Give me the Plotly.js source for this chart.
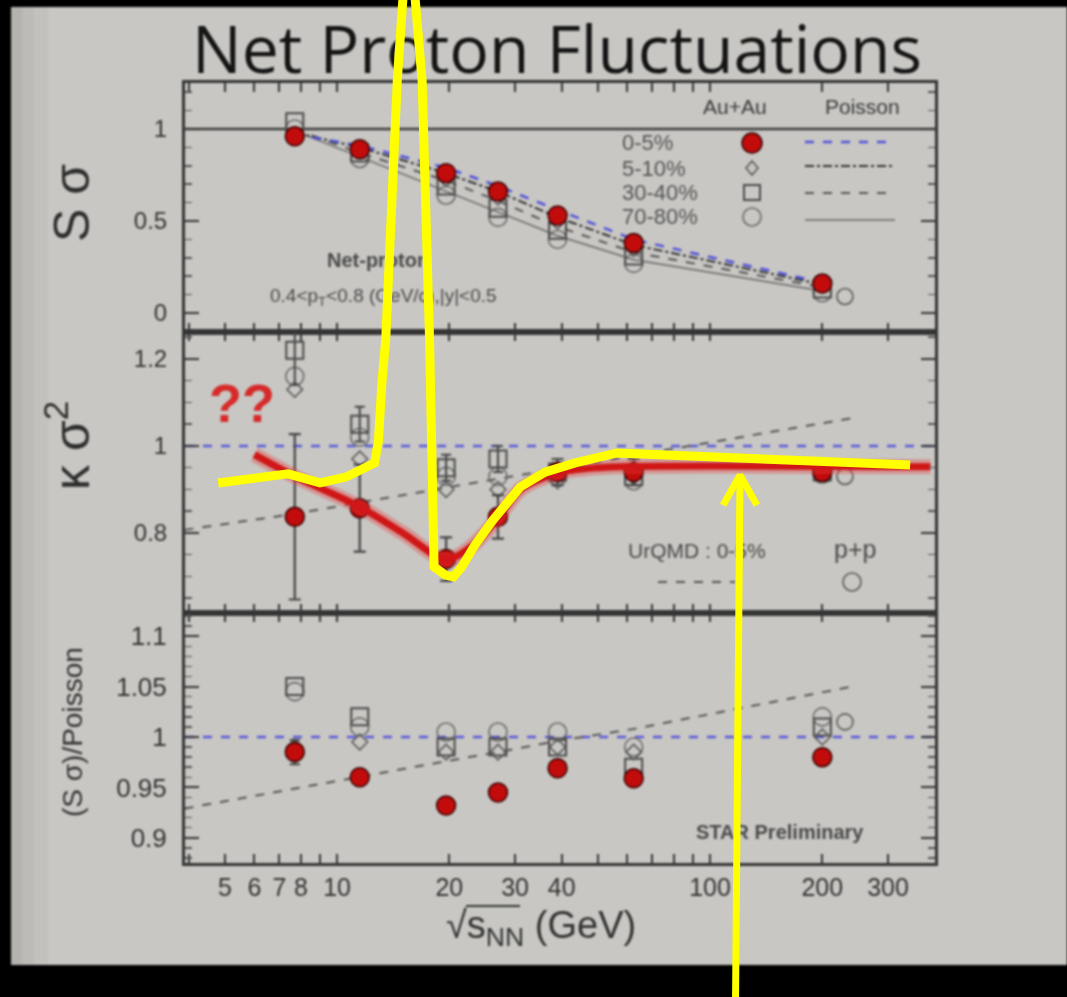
<!DOCTYPE html>
<html>
<head>
<meta charset="utf-8">
<script src="https://cdn.plot.ly/plotly-3.0.1.min.js"></script>
<style>
  html, body { margin: 0; padding: 0; background: #000; }
  #wrap { position: relative; width: 1067px; height: 997px; overflow: hidden; }
  #chart { position: absolute; left: 0; top: 0; width: 1067px; height: 997px; filter: blur(0.9px); }
  #sketch { position: absolute; left: 0; top: 0; width: 1067px; height: 997px; }
</style>
</head>
<body>
<div id="wrap"><div id="chart"></div><div id="sketch"></div></div>
<script>
// ---- data ---------------------------------------------------------------
// collision energies sqrt(s_NN) in GeV
const energies = [7.7, 11.5, 19.6, 27, 39, 62.4, 200];
const ppEnergy = [230];

// x-axis tick labels
const xTickLabelVals = [5, 6, 7, 8, 10, 20, 30, 40, 100, 200, 300];
const xTickLabels = ['5', '6', '7', '8', '10', '20', '30', '40', '100', '200', '300'];
const xTickPositions = [4, 5, 6, 7, 8, 9, 10, 20, 30, 40, 50, 60, 70, 80, 90, 100, 200, 300, 400];

// S*sigma by centrality
const ss_0_5   = [0.96, 0.89, 0.76, 0.66, 0.53, 0.38, 0.16];
const ss_5_10  = [0.97, 0.88, 0.73, 0.63, 0.50, 0.35, 0.15];
const ss_30_40 = [1.04, 0.87, 0.69, 0.57, 0.45, 0.31, 0.13];
const ss_70_80 = [1.00, 0.84, 0.64, 0.52, 0.40, 0.27, 0.11];
const ss_pp    = [0.09];
// Poisson expectations for S*sigma
const ssPois_0_5   = [0.97, 0.91, 0.79, 0.69, 0.56, 0.40, 0.165];
const ssPois_5_10  = [0.98, 0.90, 0.76, 0.66, 0.52, 0.37, 0.155];
const ssPois_30_40 = [1.00, 0.87, 0.72, 0.61, 0.47, 0.33, 0.14];
const ssPois_70_80 = [0.99, 0.85, 0.66, 0.55, 0.42, 0.29, 0.12];

// kappa*sigma^2 by centrality
const ks_0_5       = [0.837, 0.857, 0.74, 0.837, 0.94, 0.94, 0.94];
const ks_0_5_err   = [0.19, 0.10, 0.05, 0.05, 0.03, 0.03, 0.02];
const ks_5_10      = [1.13, 0.97, 0.90, 0.90, 0.92, 0.93, 0.95];
const ks_30_40     = [1.22, 1.05, 0.95, 0.97, 0.94, 0.93, 0.94];
const ks_30_40_err = [0.08, 0.04, 0.03, 0.03, 0.02, 0.02, 0.02];
const ks_70_80     = [1.16, 1.02, 0.93, 0.93, 0.93, 0.92, 0.935];
const ks_pp        = [0.93];

// UrQMD 0-5% curves
const urqmdE  = [3.9, 7.7, 11.5, 19.6, 27, 39, 62.4, 200, 240];
const urqmdKS = [0.807, 0.844, 0.870, 0.904, 0.924, 0.948, 0.978, 1.053, 1.064];
const urqmdSP = [0.929, 0.949, 0.961, 0.976, 0.985, 0.996, 1.008, 1.044, 1.050];

// (S*sigma)/Poisson by centrality
const sp_0_5     = [0.985, 0.960, 0.932, 0.945, 0.969, 0.959, 0.980];
const sp_0_5_err = [0.012, 0.006, 0.006, 0.005, 0.004, 0.004, 0.006];
const sp_5_10    = [0.990, 0.995, 0.985, 0.985, 0.990, 0.985, 1.000];
const sp_30_40   = [1.050, 1.020, 0.990, 0.990, 0.990, 0.970, 1.010];
const sp_70_80   = [1.045, 1.010, 1.005, 1.005, 1.005, 0.990, 1.020];
const sp_pp      = [1.015];

// hand-drawn red trend through the kappa*sigma^2 points
const redCurveE = [6.0, 7.7, 11.5, 15.0, 19.6, 23.0, 27, 31, 39, 50, 62.4, 100, 200, 390];
const redCurveK = [0.98, 0.93, 0.86, 0.80, 0.738, 0.77, 0.835, 0.90, 0.938, 0.95, 0.953, 0.954, 0.953, 0.952];

// hand-drawn yellow sketch (kappa*sigma^2 scale, runs off the panel)
const yellowE = [4.8, 7.39, 9.0, 10.6, 12.6, 12.9, 13.2, 13.5, 14.5, 14.9, 15.5, 16.2, 16.9, 17.7, 18.0, 18.2,
                 19.5, 20.5, 21.6, 23.4, 26.2, 31.0, 36.1, 43.5, 56.3, 344];
const yellowK = [0.915, 0.936, 0.915, 0.929, 0.961, 1.01, 1.15, 1.244, 1.841, 2.025, 2.2, 2.025, 1.841, 1.244, 0.991, 0.722,
                 0.703, 0.699, 0.722, 0.772, 0.83, 0.906, 0.94, 0.961, 0.984, 0.956];
const arrowShaftE = [116.7, 120.3];
const arrowShaftK = [-0.40, 0.933];
const arrowHeadE = [108.4, 120.3, 133.6];
const arrowHeadK = [0.864, 0.933, 0.864];

// ---- geometry -------------------------------------------------------------
const W = 1067, H = 997;
const px = v => v / W;
const py = v => 1 - v / H;

const xDom = [px(185), px(935)];
const topDom = [py(332), py(83)];
const midDom = [py(613), py(332)];
const botDom = [py(863), py(613)];
const xRange = [Math.log10(3.91), Math.log10(401)];
const topRange = [-0.103, 1.25];
const midRange = [0.616, 1.262];
const botRange = [0.875, 1.123];

// full-page axis sharing the middle panel's scales
function extend(r, d) {
  const s = (r[1] - r[0]) / (d[1] - d[0]);
  return [r[0] - d[0] * s, r[1] + (1 - d[1]) * s];
}
const fullX = extend(xRange, xDom);
const fullY = extend(midRange, midDom);

// ---- styles ---------------------------------------------------------------
const FONT = 'Liberation Sans, Arial, sans-serif';
const AX = '#353535';
const redMarker = { symbol: 'circle', size: 19, color: '#c20c0c', line: { color: '#3a0000', width: 1.5 } };
const m510 = { symbol: 'diamond-open', size: 12, color: '#5a5a5a', line: { width: 1.6 } };
const m3040 = { symbol: 'square-open', size: 17, color: '#4a4a4a', line: { width: 2 } };
const m7080 = { symbol: 'circle-open', size: 18, color: '#6a6a6a', line: { width: 1.6 } };
const mpp = { symbol: 'circle-open', size: 16, color: '#5a5a5a', line: { width: 1.6 } };

const traces = [];
function add(xa, ya, x, y, extra) {
  traces.push(Object.assign({ type: 'scatter', xaxis: xa, yaxis: ya, x: x, y: y, showlegend: false, hoverinfo: 'skip' }, extra));
}

// top panel: Poisson lines
add('x', 'y', energies, ssPois_70_80, { mode: 'lines', line: { color: '#666', width: 1.5 } });
add('x', 'y', energies, ssPois_30_40, { mode: 'lines', line: { color: '#555', width: 2, dash: 'dash' } });
add('x', 'y', energies, ssPois_5_10, { mode: 'lines', line: { color: '#333', width: 2, dash: 'dashdot' } });
add('x', 'y', energies, ssPois_0_5, { mode: 'lines', line: { color: '#5050d8', width: 2.5, dash: 'dash' } });
// top panel: data
add('x', 'y', energies, ss_70_80, { mode: 'markers', marker: m7080 });
add('x', 'y', energies, ss_30_40, { mode: 'markers', marker: m3040 });
add('x', 'y', energies, ss_5_10, { mode: 'markers', marker: m510 });
add('x', 'y', ppEnergy, ss_pp, { mode: 'markers', marker: mpp });
add('x', 'y', energies, ss_0_5, { mode: 'markers', marker: redMarker });

// middle panel
add('x2', 'y2', urqmdE, urqmdKS, { mode: 'lines', line: { color: '#555', width: 2, dash: 'dash' } });
add('x2', 'y2', energies, ks_70_80, { mode: 'markers', marker: m7080 });
add('x2', 'y2', energies, ks_30_40, { mode: 'markers', marker: m3040,
  error_y: { type: 'data', array: ks_30_40_err, color: '#444', thickness: 2, width: 5 } });
add('x2', 'y2', energies, ks_5_10, { mode: 'markers', marker: m510 });
add('x2', 'y2', ppEnergy, ks_pp, { mode: 'markers', marker: mpp });
add('x2', 'y2', energies, ks_0_5, { mode: 'markers', marker: redMarker,
  error_y: { type: 'data', array: ks_0_5_err, color: '#444', thickness: 2.2, width: 6 } });
add('x2', 'y2', redCurveE, redCurveK, { mode: 'lines', line: { color: 'rgba(235,60,60,0.35)', width: 15, shape: 'spline', smoothing: 0.8 } });
add('x2', 'y2', redCurveE, redCurveK, { mode: 'lines', line: { color: '#d01616', width: 7, shape: 'spline', smoothing: 0.8 } });

// bottom panel
add('x3', 'y3', urqmdE, urqmdSP, { mode: 'lines', line: { color: '#555', width: 2, dash: 'dash' } });
add('x3', 'y3', energies, sp_70_80, { mode: 'markers', marker: m7080 });
add('x3', 'y3', energies, sp_30_40, { mode: 'markers', marker: m3040 });
add('x3', 'y3', energies, sp_5_10, { mode: 'markers', marker: m510 });
add('x3', 'y3', ppEnergy, sp_pp, { mode: 'markers', marker: mpp });
add('x3', 'y3', energies, sp_0_5, { mode: 'markers', marker: redMarker,
  error_y: { type: 'data', array: sp_0_5_err, color: '#444', thickness: 2, width: 5 } });

// ---- axes -----------------------------------------------------------------
const xTickText = xTickPositions.map(v => {
  const i = xTickLabelVals.indexOf(v);
  return i >= 0 ? xTickLabels[i] : '';
});
function xAxis(anchor, labels) {
  return {
    domain: xDom, anchor: anchor, type: 'log', range: xRange,
    tickmode: 'array', tickvals: xTickPositions, ticktext: xTickText,
    showticklabels: labels, ticks: 'inside', ticklen: 9, tickwidth: 2, tickcolor: AX,
    showline: true, linecolor: AX, linewidth: 3, mirror: 'allticks',
    showgrid: false, zeroline: false, fixedrange: true,
    tickfont: { family: FONT, size: 25, color: '#333' }, ticklabelstandoff: 0
  };
}
function yAxis(anchor, dom, range, dtick, minor, fsize) {
  return {
    domain: dom, anchor: anchor, range: range, tick0: 0, dtick: dtick,
    ticks: 'inside', ticklen: 14, tickwidth: 2, tickcolor: AX,
    minor: { ticks: 'inside', dtick: minor, ticklen: 7, tickwidth: 1.5, tickcolor: '#555' },
    showline: true, linecolor: AX, linewidth: 3, mirror: 'allticks',
    showgrid: false, zeroline: false, fixedrange: true,
    tickfont: { family: FONT, size: fsize, color: '#333' }, ticklabelstandoff: 10
  };
}

// ---- decorations ----------------------------------------------------------
const shapes = [
  // slide surface with a darker left rim
  { type: 'rect', xref: 'paper', yref: 'paper', x0: px(11), x1: 1.05, y0: py(965), y1: py(7),
    fillcolor: '#c8c7c3', line: { width: 0 }, layer: 'below' },
  { type: 'rect', xref: 'paper', yref: 'paper', x0: px(11), x1: px(22), y0: py(965), y1: py(7),
    fillcolor: 'rgba(110,108,105,0.22)', line: { width: 0 }, layer: 'below' },
  { type: 'rect', xref: 'paper', yref: 'paper', x0: px(22), x1: px(34), y0: py(965), y1: py(7),
    fillcolor: 'rgba(110,108,105,0.13)', line: { width: 0 }, layer: 'below' },
  { type: 'rect', xref: 'paper', yref: 'paper', x0: px(34), x1: px(48), y0: py(965), y1: py(7),
    fillcolor: 'rgba(110,108,105,0.06)', line: { width: 0 }, layer: 'below' },
  // reference lines
  { type: 'line', xref: 'x domain', yref: 'y', x0: 0, x1: 1, y0: 1, y1: 1, line: { color: '#3d3d3d', width: 2.5 }, layer: 'below' },
  { type: 'line', xref: 'x2 domain', yref: 'y2', x0: 0, x1: 1, y0: 1, y1: 1, line: { color: '#5a5ad8', width: 2.5, dash: 'dash' }, layer: 'below' },
  { type: 'line', xref: 'x3 domain', yref: 'y3', x0: 0, x1: 1, y0: 1, y1: 1, line: { color: '#5a5ad8', width: 2.5, dash: 'dash' }, layer: 'below' },
  // legend glyphs, top panel
  { type: 'circle', xref: 'paper', yref: 'paper', x0: px(742), x1: px(762), y0: py(153), y1: py(133),
    fillcolor: '#c20c0c', line: { color: '#3a0000', width: 1.5 } },
  { type: 'path', xref: 'paper', yref: 'paper',
    path: `M ${px(752)} ${py(161)} L ${px(758)} ${py(168)} L ${px(752)} ${py(175)} L ${px(746)} ${py(168)} Z`,
    line: { color: '#5a5a5a', width: 1.6 } },
  { type: 'rect', xref: 'paper', yref: 'paper', x0: px(744), x1: px(760), y0: py(200), y1: py(185),
    line: { color: '#4a4a4a', width: 2 } },
  { type: 'circle', xref: 'paper', yref: 'paper', x0: px(743), x1: px(761), y0: py(226), y1: py(208),
    line: { color: '#6a6a6a', width: 1.6 } },
  { type: 'line', xref: 'paper', yref: 'paper', x0: px(805), x1: px(895), y0: py(142), y1: py(142), line: { color: '#5050d8', width: 2.5, dash: 'dash' } },
  { type: 'line', xref: 'paper', yref: 'paper', x0: px(805), x1: px(895), y0: py(166), y1: py(166), line: { color: '#333', width: 2, dash: 'dashdot' } },
  { type: 'line', xref: 'paper', yref: 'paper', x0: px(805), x1: px(895), y0: py(193), y1: py(193), line: { color: '#555', width: 2, dash: 'dash' } },
  { type: 'line', xref: 'paper', yref: 'paper', x0: px(805), x1: px(895), y0: py(220), y1: py(220), line: { color: '#666', width: 1.5 } },
  // legend glyphs, middle panel
  { type: 'line', xref: 'paper', yref: 'paper', x0: px(658), x1: px(735), y0: py(582), y1: py(582), line: { color: '#555', width: 2, dash: 'dash' } },
  { type: 'circle', xref: 'paper', yref: 'paper', x0: px(843), x1: px(861), y0: py(591), y1: py(573), line: { color: '#5a5a5a', width: 1.6 } },
  // radical bar over s_NN in the axis title
  { type: 'line', xref: 'paper', yref: 'paper', x0: px(466), x1: px(520), y0: py(906), y1: py(906), line: { color: '#333', width: 2.2 } }
];

function note(text, x, y, size, opts) {
  return Object.assign({ text: text, xref: 'paper', yref: 'paper', x: px(x), y: py(y), showarrow: false,
    xanchor: 'center', yanchor: 'middle', font: { family: FONT, size: size, color: '#3a3a3a' } }, opts || {});
}
const annotations = [
  note('Net Proton Fluctuations', 557, 47, 66, { font: { family: 'Open Sans, sans-serif', size: 66, color: '#141414' } }),
  note('S σ', 72, 203, 50, { textangle: -90, font: { family: FONT, size: 50, color: '#2e2e2e' } }),
  note('κ σ<sup>2</sup>', 68, 446, 50, { textangle: -90, font: { family: FONT, size: 50, color: '#2e2e2e' } }),
  note('(S σ)/Poisson', 72, 732, 28, { textangle: -90, font: { family: FONT, size: 28, color: '#333' } }),
  note('√s<sub>NN</sub> (GeV)', 541, 928, 38, { font: { family: FONT, size: 38, color: '#333' } }),
  note('Au+Au', 735, 107, 21),
  note('Poisson', 862, 107, 21),
  note('0-5%', 620, 143, 22, { xanchor: 'left', font: { family: FONT, size: 22, color: '#555' } }),
  note('5-10%', 620, 168, 22, { xanchor: 'left', font: { family: FONT, size: 22, color: '#555' } }),
  note('30-40%', 620, 193, 22, { xanchor: 'left', font: { family: FONT, size: 22, color: '#555' } }),
  note('70-80%', 620, 217, 22, { xanchor: 'left', font: { family: FONT, size: 22, color: '#555' } }),
  note('<b>Net-proton</b>', 378, 260, 20, { font: { family: FONT, size: 20, color: '#4a4a4a' } }),
  note('0.4&lt;p<sub>T</sub>&lt;0.8 (GeV/c),|y|&lt;0.5', 383, 297, 19, { font: { family: FONT, size: 19, color: '#4a4a4a' } }),
  note('UrQMD : 0-5%', 697, 550, 21, { font: { family: FONT, size: 21, color: '#4a4a4a' } }),
  note('p+p', 855, 549, 25, { font: { family: FONT, size: 25, color: '#4a4a4a' } }),
  note('<b>STAR Preliminary</b>', 780, 832, 20, { font: { family: FONT, size: 20, color: '#4a4a4a' } }),
  note('<b>??</b>', 242, 403, 54, { font: { family: FONT, size: 54, color: '#d62a2a' } })
];

const layout = {
  width: W, height: H,
  margin: { l: 0, r: 0, t: 0, b: 0 },
  paper_bgcolor: '#000000', plot_bgcolor: 'rgba(0,0,0,0)',
  showlegend: false, dragmode: false, hovermode: false,
  xaxis: xAxis('y', false), yaxis: yAxis('x', topDom, topRange, 0.5, 0.1, 24),
  xaxis2: xAxis('y2', false), yaxis2: yAxis('x2', midDom, midRange, 0.2, 0.05, 24),
  xaxis3: xAxis('y3', true), yaxis3: yAxis('x3', botDom, botRange, 0.05, 0.01, 26),
  shapes: shapes, annotations: annotations
};

Plotly.newPlot('chart', traces, layout, { staticPlot: true, displayModeBar: false });

// ---- yellow sketch, drawn crisp on top with a full-page axis ----------------
const YEL = '#ffff00';
const sketch = [
  { type: 'scatter', mode: 'lines', x: yellowE, y: yellowK, line: { color: YEL, width: 9 }, hoverinfo: 'skip' },
  { type: 'scatter', mode: 'lines', x: arrowShaftE, y: arrowShaftK, line: { color: YEL, width: 7 }, hoverinfo: 'skip' },
  { type: 'scatter', mode: 'lines', x: arrowHeadE, y: arrowHeadK, line: { color: YEL, width: 7 }, hoverinfo: 'skip' }
];
const sketchLayout = {
  width: W, height: H, margin: { l: 0, r: 0, t: 0, b: 0 },
  paper_bgcolor: 'rgba(0,0,0,0)', plot_bgcolor: 'rgba(0,0,0,0)', showlegend: false,
  xaxis: { domain: [0, 1], type: 'log', range: fullX, visible: false, fixedrange: true },
  yaxis: { domain: [0, 1], range: fullY, visible: false, fixedrange: true }
};
Plotly.newPlot('sketch', sketch, sketchLayout, { staticPlot: true, displayModeBar: false });
</script>
</body>
</html>
